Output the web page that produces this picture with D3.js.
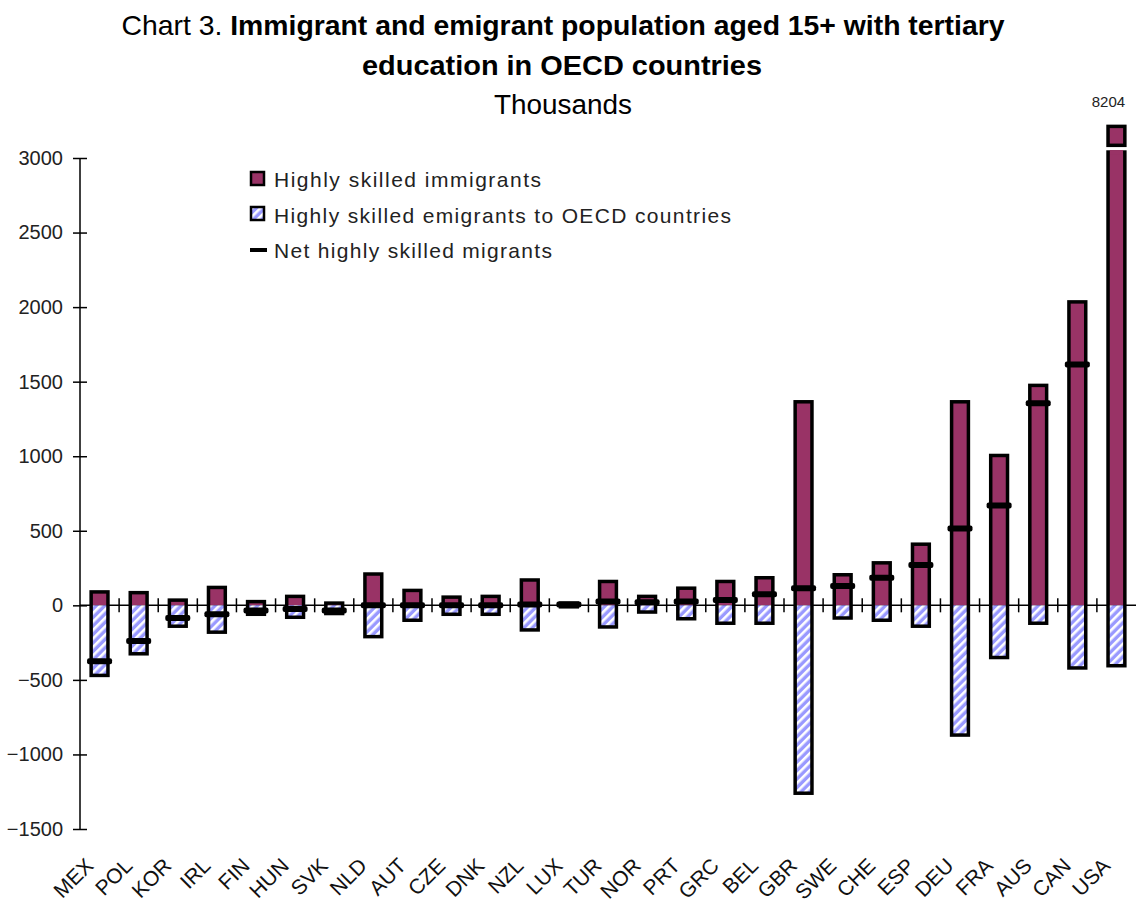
<!DOCTYPE html>
<html>
<head>
<meta charset="utf-8">
<script src="https://cdn.jsdelivr.net/npm/d3@7"></script>
<style>
    body { margin: 0; background: #ffffff; }
    svg { display: block; font-family: "Liberation Sans", Arial, sans-serif; }
</style>
</head>
<body>
<div class="chart"></div>
<script>
// values in thousands
var countries = ["MEX","POL","KOR","IRL","FIN","HUN","SVK","NLD","AUT","CZE","DNK","NZL","LUX","TUR",
    "NOR","PRT","GRC","BEL","GBR","SWE","CHE","ESP","DEU","FRA","AUS","CAN","USA"];
var immigrants = [90, 85, 35, 120, 25, 60, 15, 210, 100, 55, 60, 170, 15, 160,
    60, 115, 160, 185, 1365, 205, 285, 410, 1365, 1005, 1475, 2035, 8204];
var emigrants = [-470, -325, -140, -180, -60, -80, -55, -210, -100, -60, -60, -165, -10, -145,
    -45, -90, -120, -120, -1260, -85, -100, -140, -870, -350, -120, -420, -405];
var net = [-375, -240, -85, -60, -35, -25, -35, 0, 0, 0, 0, 5, 5, 25,
    20, 25, 35, 75, 115, 130, 185, 270, 515, 670, 1355, 1615, 7799];
var yTicks = [-1500, -1000, -500, 0, 500, 1000, 1500, 2000, 2500, 3000];
var legendText = ["Highly skilled immigrants", "Highly skilled emigrants to OECD countries", "Net highly skilled migrants"];

var width = 1136, height = 911;
var plum = "#993366", blue = "#9999ff";
var breakAt = 3040, capBox = [3085, 3212];   // broken USA bar
var legendLen = [267, 457, 278];

var svg = d3.select("div.chart")
    .append("svg")
    .attr("width", width)
    .attr("height", height);

var defs = svg.append("defs");
var pat = defs.append("pattern")
    .attr("id", "hatch")
    .attr("patternUnits", "userSpaceOnUse")
    .attr("width", 6)
    .attr("height", 6)
    .attr("patternTransform", "rotate(45)");
pat.append("rect").attr("width", 6).attr("height", 6).attr("fill", blue);
pat.append("rect").attr("width", 2.6).attr("height", 6).attr("fill", "#ffffff");

var x = d3.scaleBand()
    .domain(countries)
    .range([80, 1136]);
var y = d3.scaleLinear()
    .domain([-1500, 3000])
    .range([829, 158]);

var barW = x.bandwidth() * 0.43;
function cx(d){ return x(d) + x.bandwidth() / 2; }
function capped(v){ return Math.min(v, breakAt); }

// title
var t1 = svg.append("text")
    .attr("x", 563).attr("y", 35)
    .attr("text-anchor", "middle")
    .attr("font-size", "28px")
    .attr("textLength", 883)
    .attr("lengthAdjust", "spacingAndGlyphs");
t1.append("tspan").text("Chart 3. ");
t1.append("tspan").attr("font-weight", "bold").text("Immigrant and emigrant population aged 15+ with tertiary");
svg.append("text")
    .text("education in OECD countries")
    .attr("x", 562).attr("y", 75)
    .attr("text-anchor", "middle")
    .attr("font-size", "28px")
    .attr("font-weight", "bold")
    .attr("textLength", 400)
    .attr("lengthAdjust", "spacingAndGlyphs");
svg.append("text")
    .text("Thousands")
    .attr("x", 563).attr("y", 114)
    .attr("text-anchor", "middle")
    .attr("font-size", "27px")
    .attr("textLength", 138)
    .attr("lengthAdjust", "spacingAndGlyphs");

// y axis
var yAxis = d3.axisLeft(y)
    .tickValues(yTicks)
    .tickSize(7)
    .tickPadding(10)
    .tickFormat(d3.format("d"));
var ya = svg.append("g")
    .attr("transform", "translate(80,0)")
    .call(yAxis);
ya.select(".domain").attr("d", "M0," + y(3000) + "V" + y(-1500)).attr("stroke-width", 1.5);
ya.selectAll(".tick line").attr("x2", 7).attr("x1", -7).attr("stroke-width", 1.5);
ya.selectAll(".tick text").attr("font-size", "20px").attr("fill", "#222").attr("font-family", "Liberation Sans, Arial");

// zero line with category ticks
svg.append("line")
    .attr("x1", 80).attr("x2", 1136)
    .attr("y1", y(0)).attr("y2", y(0))
    .attr("stroke", "#000").attr("stroke-width", 1.5);
svg.selectAll(".cat_tick")
    .data(countries.slice(1))
    .enter()
    .append("line")
    .attr("x1", function(d){ return x(d); })
    .attr("x2", function(d){ return x(d); })
    .attr("y1", y(0) - 7)
    .attr("y2", y(0) + 7)
    .attr("stroke", "#000")
    .attr("stroke-width", 1.5);

// bar fills
svg.selectAll(".imm")
    .data(countries)
    .enter()
    .append("rect")
    .attr("x", function(d){ return cx(d) - barW / 2; })
    .attr("y", function(d, i){ return y(capped(immigrants[i])); })
    .attr("width", barW)
    .attr("height", function(d, i){ return y(0) - y(capped(immigrants[i])); })
    .attr("fill", plum);
svg.selectAll(".emi")
    .data(countries)
    .enter()
    .append("rect")
    .attr("x", function(d){ return cx(d) - barW / 2; })
    .attr("y", y(0))
    .attr("width", barW)
    .attr("height", function(d, i){ return y(emigrants[i]) - y(0); })
    .attr("fill", "url(#hatch)");

// outlines round each stack
svg.selectAll(".outline")
    .data(countries)
    .enter()
    .append("rect")
    .attr("x", function(d){ return cx(d) - barW / 2; })
    .attr("y", function(d, i){ return y(capped(immigrants[i])); })
    .attr("width", barW)
    .attr("height", function(d, i){ return y(emigrants[i]) - y(capped(immigrants[i])); })
    .attr("fill", "none")
    .attr("stroke", "#000")
    .attr("stroke-width", 3.5);

// break: open top on capped bar, plus a small box above
var big = countries.filter(function(d, i){ return immigrants[i] > breakAt; });
svg.selectAll(".cap_cover")
    .data(big)
    .enter()
    .append("rect")
    .attr("x", function(d){ return cx(d) - barW / 2 + 1.8; })
    .attr("y", y(breakAt) - 2)
    .attr("width", barW - 3.6)
    .attr("height", 4)
    .attr("fill", plum);
svg.selectAll(".cap_box")
    .data(big)
    .enter()
    .append("rect")
    .attr("x", function(d){ return cx(d) - barW / 2; })
    .attr("y", y(capBox[1]))
    .attr("width", barW)
    .attr("height", y(capBox[0]) - y(capBox[1]))
    .attr("fill", plum)
    .attr("stroke", "#000")
    .attr("stroke-width", 3.5);
svg.selectAll(".cap_label")
    .data(big)
    .enter()
    .append("text")
    .text(function(d){ return immigrants[countries.indexOf(d)]; })
    .attr("x", function(d){ return cx(d) - 8; })
    .attr("y", 107)
    .attr("text-anchor", "middle")
    .attr("font-size", "15px")
    .attr("fill", "#222");

// net markers (off-scale values not shown)
svg.selectAll(".net")
    .data(countries.filter(function(d, i){ return net[i] <= 3000; }))
    .enter()
    .append("rect")
    .attr("x", function(d){ return cx(d) - 12.5; })
    .attr("y", function(d){ return y(net[countries.indexOf(d)]) - 3; })
    .attr("width", 25)
    .attr("height", 6)
    .attr("rx", 2)
    .attr("fill", "#000");

// category labels
svg.selectAll(".cat_label")
    .data(countries)
    .enter()
    .append("text")
    .text(function(d){ return d; })
    .attr("transform", function(d){ return "translate(" + (cx(d) - 5) + ",867) rotate(-45)"; })
    .attr("text-anchor", "end")
    .attr("font-size", "21px")
    .attr("fill", "#111");

// legend
var lg = svg.append("g").attr("class", "legend");
lg.append("rect")
    .attr("x", 251).attr("y", 172).attr("width", 13).attr("height", 13)
    .attr("fill", plum).attr("stroke", "#000").attr("stroke-width", 2.5);
lg.append("rect")
    .attr("x", 251).attr("y", 207).attr("width", 13).attr("height", 13)
    .attr("fill", "url(#hatch)").attr("stroke", "#000").attr("stroke-width", 2.5);
lg.append("rect")
    .attr("x", 250).attr("y", 248).attr("width", 17).attr("height", 4)
    .attr("fill", "#000");
lg.selectAll(".legend_text")
    .data(legendText)
    .enter()
    .append("text")
    .text(function(d){ return d; })
    .attr("x", 274)
    .attr("y", function(d, i){ return 187 + i * 35.5; })
    .attr("font-size", "21px")
    .attr("textLength", function(d, i){ return legendLen[i]; })
    .attr("lengthAdjust", "spacing")
    .attr("fill", "#222");
</script>
</body>
</html>
